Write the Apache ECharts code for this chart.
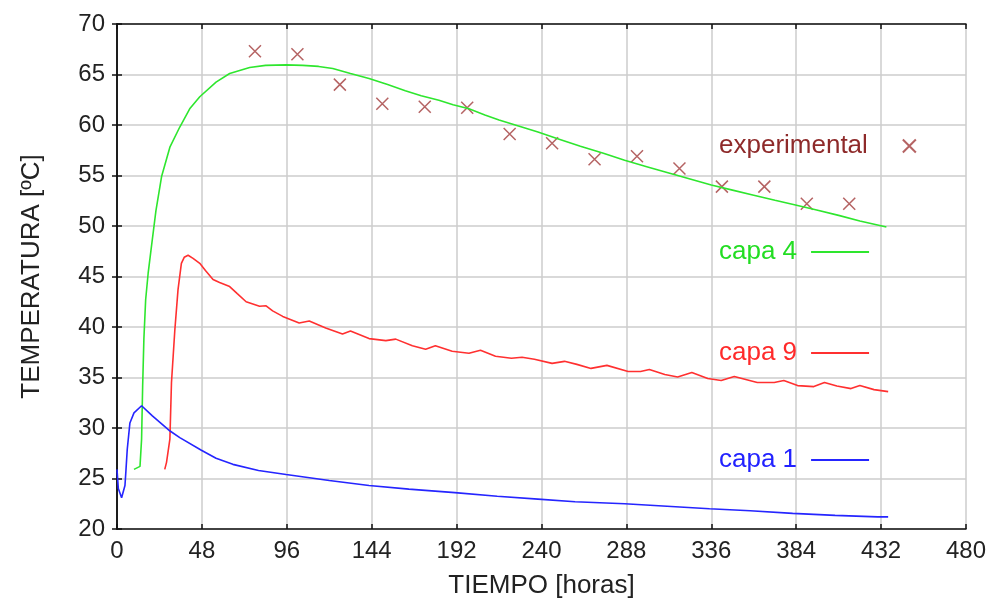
<!DOCTYPE html>
<html>
<head>
<meta charset="utf-8">
<script src="https://cdn.jsdelivr.net/npm/echarts@6/dist/echarts.min.js"></script>
<style>
  html, body { margin: 0; padding: 0; background: #fff; }
  #chart { width: 989px; height: 604px; }
</style>
</head>
<body>
<div id="chart"></div>
<script>
// tick values
var xTicks = [0, 48, 96, 144, 192, 240, 288, 336, 384, 432, 480];
var yTicks = [20, 25, 30, 35, 40, 45, 50, 55, 60, 65, 70];

// experimental points
var expT = [78, 102, 126, 150, 174, 198, 222, 246, 270, 294, 318, 342, 366, 390, 414];
var expV = [67.3, 67.0, 64.0, 62.1, 61.8, 61.7, 59.1, 58.2, 56.6, 56.9, 55.7, 53.9, 53.9, 52.2, 52.2];

// capa 4 (green)
var capa4T = [9.6, 13.0, 13.9, 14.5, 15.2, 16.2, 17.6, 19.5, 22, 25.2, 29.9, 35.5, 41.1, 46.8, 56, 63.7, 75, 84,
  95.6, 105, 114, 122, 132, 142.5, 153, 163, 172, 182, 190, 199, 208, 216, 227, 238, 250, 262, 275, 287, 300,
  312, 324, 336, 348, 360, 372, 383, 395, 408, 420, 435];
var capa4V = [25.9, 26.2, 28.9, 34.1, 38.8, 42.7, 45.3, 48.0, 51.5, 54.9, 57.8, 59.8, 61.6, 62.8, 64.25, 65.1, 65.7, 65.9,
  65.95, 65.9, 65.8, 65.6, 65.1, 64.6, 64.0, 63.4, 62.9, 62.45, 62.0, 61.6, 61.0, 60.5, 59.9, 59.3, 58.6, 57.9, 57.2, 56.5, 55.85,
  55.25, 54.65, 54.05, 53.55, 53.05, 52.55, 52.1, 51.6, 51.05, 50.5, 49.9];

// capa 9 (red)
var capa9T = [27, 28, 29.9, 30.8, 32.7, 34.5, 36.4, 38, 40.2, 43, 46.8, 50, 54.3, 58, 63.7, 68, 73, 80.6, 84.3, 88,
  93.7, 103, 108.7, 118, 127.5, 132, 142.5, 152, 157.6, 167, 174.5, 180, 189.5, 199, 205.5, 214, 223, 229, 236, 246,
  253, 260, 268, 277, 289, 296, 301, 309.7, 317, 325, 334, 341.6, 349, 362, 371.6, 377, 384.8, 394, 400, 407, 415,
  420, 428, 436];
var capa9V = [25.9, 26.6, 28.9, 34.5, 39.7, 43.7, 46.3, 46.9, 47.1, 46.8, 46.3, 45.6, 44.7, 44.4, 44.0, 43.3, 42.5, 42.05, 42.1, 41.6,
  41.05, 40.4, 40.6, 39.9, 39.3, 39.6, 38.85, 38.65, 38.8, 38.15, 37.8, 38.15, 37.6, 37.4, 37.7, 37.1, 36.9, 37.0, 36.8, 36.4,
  36.6, 36.3, 35.9, 36.2, 35.6, 35.6, 35.8, 35.3, 35.05, 35.5, 34.9, 34.7, 35.1, 34.5, 34.5, 34.7, 34.2, 34.1, 34.5, 34.15, 33.9,
  34.2, 33.8, 33.6];

// capa 1 (blue)
var capa1T = [0, 0.75, 2.6, 4.5, 5.1, 5.8, 7.3, 9.6, 13.9, 20, 30, 35.5, 47.7, 56, 65.5, 80, 95.6, 120, 142.5, 165,
  191, 215, 238, 259, 287, 311, 335, 358, 382, 406, 430, 436];
var capa1V = [25.9, 24.0, 23.1, 24.3, 25.9, 27.9, 30.5, 31.5, 32.2, 31.2, 29.7, 29.05, 27.8, 27.0, 26.4, 25.8, 25.4, 24.8, 24.3, 23.95,
  23.6, 23.25, 22.96, 22.7, 22.5, 22.25, 22.0, 21.8, 21.55, 21.35, 21.2, 21.2];

function pairs(t, v) {
  var out = [];
  for (var i = 0; i < t.length; i++) out.push([t[i], v[i]]);
  return out;
}

var font = "Liberation Sans, Arial, sans-serif";
var crossPath = "path://M0,0L10,10M10,0L0,10";

var chart = echarts.init(document.getElementById("chart"));

function legendFor(name, top, color, icon, w, h, gap) {
  return {
    data: [{ name: name, icon: icon }],
    left: 719,
    top: top,
    orient: "horizontal",
    align: "right",
    padding: 0,
    itemWidth: w,
    itemHeight: h,
    selectedMode: false,
    textStyle: { fontFamily: font, fontSize: 26, color: color, padding: [0, gap, 0, 0] }
  };
}

chart.setOption({
  animation: false,
  backgroundColor: "#fff",
  grid: { left: 117, right: 20, top: 24, bottom: 74 },
  legend: [
    legendFor("experimental", 133, "#8e2a2a", crossPath, 13, 13, 30),
    legendFor("capa 4", 239, "#22dd22", "rect", 58, 2, 9),
    legendFor("capa 9", 340, "#ff2a2a", "rect", 58, 2, 9),
    legendFor("capa 1", 447, "#2222ff", "rect", 58, 2, 9)
  ],
  xAxis: [
    {
      type: "value", min: 0, max: 480, interval: 48,
      name: "TIEMPO [horas]", nameLocation: "middle", nameGap: 44,
      nameTextStyle: { fontFamily: font, fontSize: 26, color: "#222" },
      axisLine: { lineStyle: { color: "#111", width: 1.5 } },
      axisTick: { inside: true, length: 5, lineStyle: { color: "#111", width: 1.5 } },
      axisLabel: { fontFamily: font, fontSize: 24, color: "#222", margin: 10 },
      splitLine: { show: true, lineStyle: { color: "#cccccc", width: 1.5 } }
    },
    {
      type: "value", min: 0, max: 480, interval: 48, position: "top",
      axisLine: { show: true, lineStyle: { color: "#111", width: 1.5 } },
      axisTick: { inside: true, length: 5, lineStyle: { color: "#111", width: 1.5 } },
      axisLabel: { show: false },
      splitLine: { show: false }
    }
  ],
  yAxis: [
    {
      type: "value", min: 20, max: 70, interval: 5,
      name: "TEMPERATURA [ºC]", nameLocation: "middle", nameGap: 72,
      nameTextStyle: { fontFamily: font, fontSize: 26, color: "#222" },
      axisLine: { show: true, lineStyle: { color: "#111", width: 1.5 } },
      axisTick: { show: true, inside: true, length: 5, lineStyle: { color: "#111", width: 1.5 } },
      axisLabel: { fontFamily: font, fontSize: 24, color: "#222", margin: 12 },
      splitLine: { show: true, lineStyle: { color: "#cccccc", width: 1.5 } }
    },
    {
      type: "value", min: 20, max: 70, interval: 5, position: "right",
      axisLine: { show: true, lineStyle: { color: "#111", width: 1.5 } },
      axisTick: { show: true, inside: true, length: 5, lineStyle: { color: "#111", width: 1.5 } },
      axisLabel: { show: false },
      splitLine: { show: false }
    }
  ],
  series: [
    {
      name: "experimental", type: "scatter", data: pairs(expT, expV),
      symbol: crossPath, symbolSize: 12,
      itemStyle: { color: "rgba(0,0,0,0)", borderColor: "#a23c3c", borderWidth: 1.5 }
    },
    {
      name: "capa 4", type: "line", data: pairs(capa4T, capa4V), symbol: "none",
      lineStyle: { color: "#2ee62e", width: 1.6 }, itemStyle: { color: "#2ee62e" }
    },
    {
      name: "capa 9", type: "line", data: pairs(capa9T, capa9V), symbol: "none",
      lineStyle: { color: "#ff3030", width: 1.6 }, itemStyle: { color: "#ff3030" }
    },
    {
      name: "capa 1", type: "line", data: pairs(capa1T, capa1V), symbol: "none",
      lineStyle: { color: "#2525ff", width: 1.6 }, itemStyle: { color: "#2525ff" }
    }
  ]
});
</script>
</body>
</html>
